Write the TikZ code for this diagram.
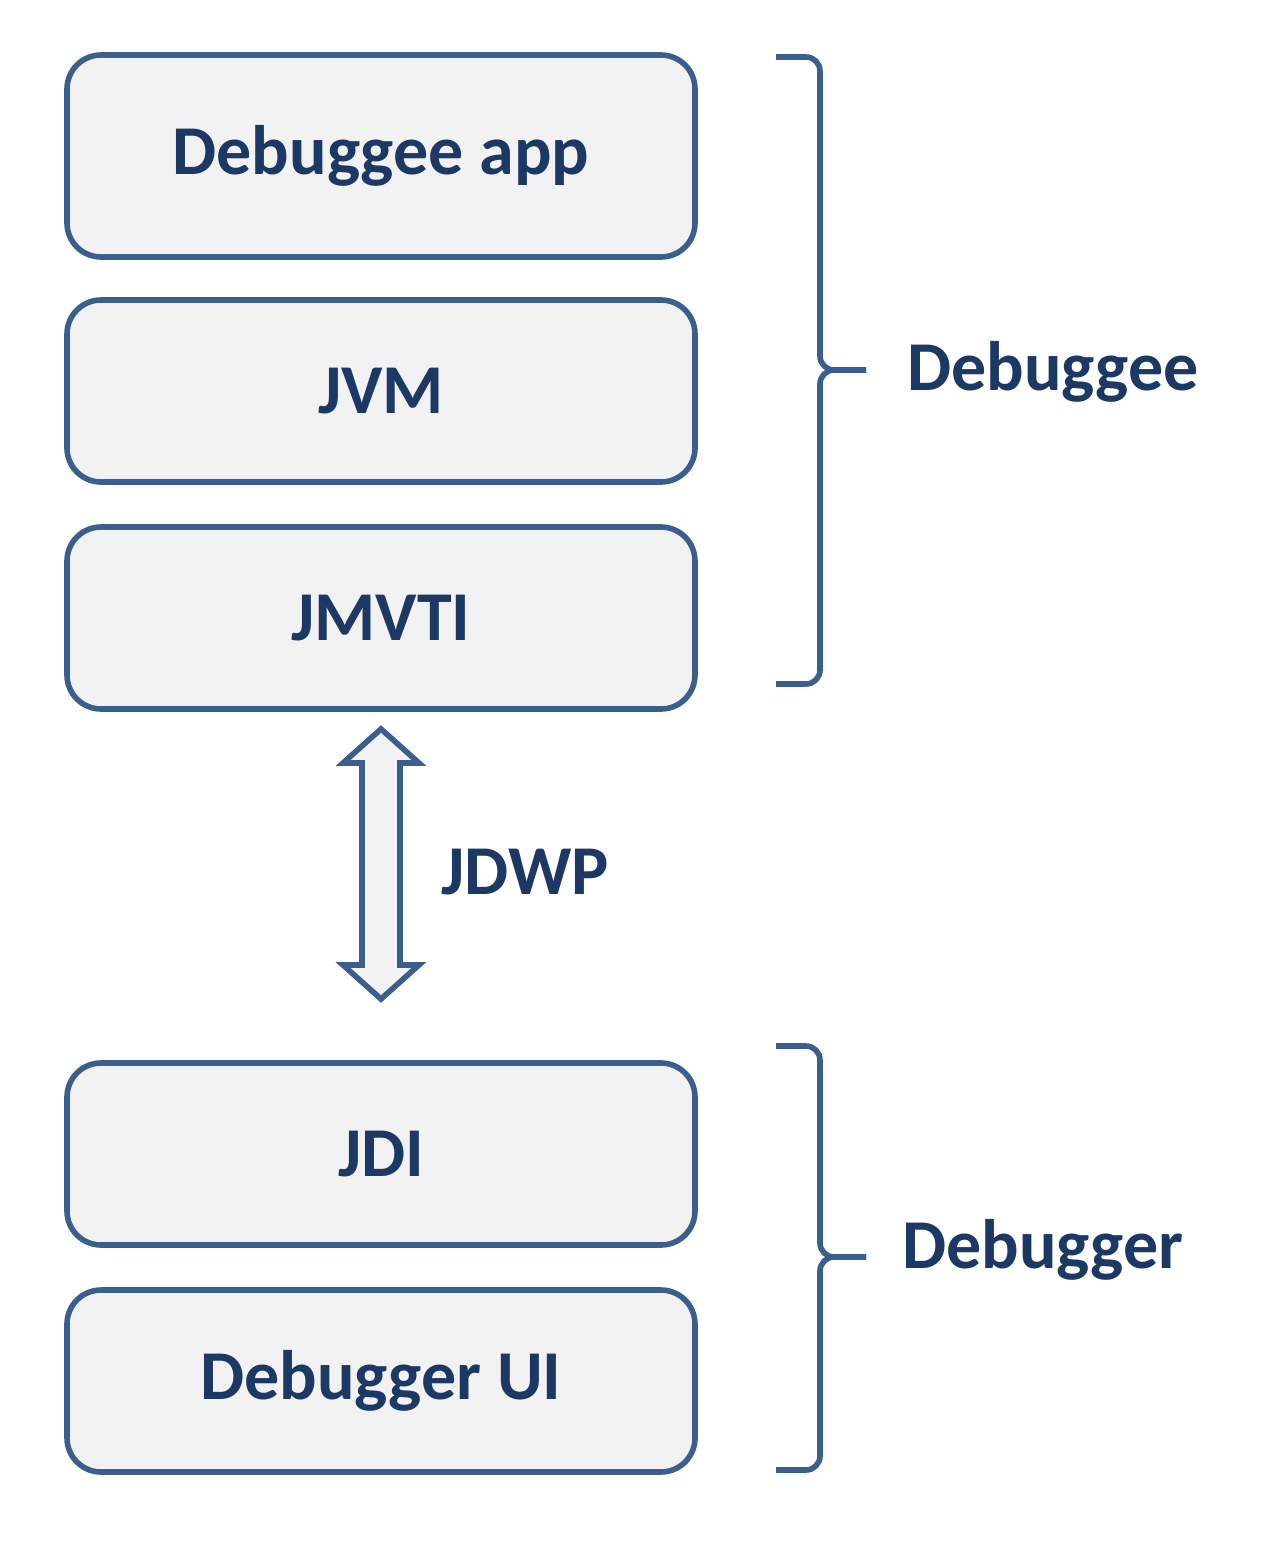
\documentclass[tikz,border=0pt]{standalone}
\usepackage{fontspec}
\setmainfont{Carlito}
\usetikzlibrary{calc}
\definecolor{bordc}{RGB}{58,95,142}
\definecolor{boxfill}{RGB}{242,242,242}
\definecolor{txtc}{RGB}{28,56,100}
\begin{document}
\begin{tikzpicture}[x=0.5pt,y=-0.5pt,
  layer/.style={draw=bordc, fill=boxfill, line width=2.8pt, rounded corners=17pt,
    minimum width=314pt, minimum height=91pt, inner sep=0pt,
    text=txtc, font=\fontsize{35}{42}\selectfont\bfseries},
  lbl/.style={text=txtc, font=\fontsize{35}{42}\selectfont\bfseries, inner sep=0pt, anchor=west},
  bracepath/.style={draw=bordc, line width=2.8pt, rounded corners=7pt},
  blockarrow/.style={draw=bordc, fill=boxfill, line width=2.8pt, line join=miter}]
\useasboundingbox (0,0) rectangle (1280,1547);
\node[layer, minimum height=101pt] (app) at (381,156) {Debuggee app};
\node[layer] (jvm) at (381,391) {JVM};
\node[layer] (jvmti) at (381,618) {JMVTI};
\node[layer] (jdi) at (381,1154) {JDI};
\node[layer] (ui) at (381,1381) {Debugger UI};
% braces
\coordinate (b1top) at (776,57);
\coordinate (b1bot) at (776,684);
\coordinate (b1tip) at (866,370);
\draw[bracepath] (b1top) -- (820,57) -- (820,370) -- (b1tip);
\draw[bracepath] (b1tip) -- (820,370) -- (820,684) -- (b1bot);
\node[lbl] (debuggee) at (907,372) {Debuggee};
\coordinate (b2top) at (776,1046);
\coordinate (b2bot) at (776,1470);
\coordinate (b2tip) at (866,1257);
\draw[bracepath] (b2top) -- (820,1046) -- (820,1257) -- (b2tip);
\draw[bracepath] (b2tip) -- (820,1257) -- (820,1470) -- (b2bot);
\node[lbl] (debugger) at (902,1250) {Debugger};
% block arrow
\coordinate (atop) at (381,729);
\coordinate (abot) at (381,999);
\draw[blockarrow] (atop) -- ($(atop)+(38,34)$) -- ($(atop)+(19,34)$) -- ($(abot)+(19,-34)$)
  -- ($(abot)+(38,-34)$) -- (abot) -- ($(abot)+(-38,-34)$) -- ($(abot)+(-19,-34)$)
  -- ($(atop)+(-19,34)$) -- ($(atop)+(-38,34)$) -- cycle;
\node[lbl] (jdwp) at (441,872) {JDWP};
\end{tikzpicture}
\end{document}
